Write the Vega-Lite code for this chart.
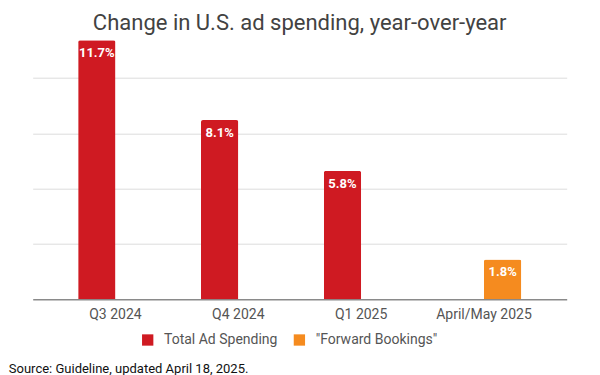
{
  "$schema": "https://vega.github.io/schema/vega-lite/v6.json",
  "autosize": {"type": "none"},
  "width": 534,
  "height": 265.6,
  "padding": {"left": 32.7, "top": 33.7, "right": 33.3, "bottom": 75.7},
  "background": "white",
  "config": {"view": {"stroke": null}},
  "title": {
    "text": "Change in U.S. ad spending, year-over-year",
    "font": "Roboto",
    "fontSize": 22,
    "fontWeight": "normal",
    "color": "#424242",
    "anchor": "middle",
    "baseline": "alphabetic",
    "offset": -18
  },
  "data": {
    "values": [
      {"period": "Q3 2024", "series": "Total Ad Spending", "value": 0.117},
      {"period": "Q4 2024", "series": "Total Ad Spending", "value": 0.081},
      {"period": "Q1 2025", "series": "Total Ad Spending", "value": 0.058},
      {"period": "April/May 2025", "series": "\"Forward Bookings\"", "value": 0.018}
    ]
  },
  "encoding": {
    "x": {
      "field": "period",
      "type": "nominal",
      "sort": ["Q3 2024", "Q4 2024", "Q1 2025", "April/May 2025"],
      "scale": {"paddingInner": 0.393, "paddingOuter": 0.37},
      "axis": {
        "title": "Source: Guideline, updated April 18, 2025.",
        "titleFont": "Roboto",
        "titleFontSize": 13,
        "titleFontWeight": "normal",
        "titleColor": "#111",
        "titleAlign": "left",
        "titleBaseline": "alphabetic",
        "titleX": -24.4,
        "titleY": 73,
        "labelAngle": 0,
        "labelFont": "Roboto",
        "labelFontSize": 14,
        "labelColor": "#555",
        "labelPadding": 8.5,
        "ticks": false,
        "domainColor": "#8a8a8a",
        "domainWidth": 1.5
      }
    },
    "xOffset": {
      "field": "series",
      "type": "nominal",
      "sort": ["Total Ad Spending", "\"Forward Bookings\""],
      "scale": {"domain": ["Total Ad Spending", "\"Forward Bookings\""], "paddingInner": 0, "paddingOuter": 0}
    },
    "y": {
      "field": "value",
      "type": "quantitative",
      "scale": {"domain": [0, 0.12], "nice": false},
      "axis": {
        "title": null,
        "labels": false,
        "ticks": false,
        "domain": false,
        "values": [0.025, 0.05, 0.075, 0.1],
        "gridColor": "#dcdcdc",
        "gridWidth": 1
      }
    }
  },
  "layer": [
    {
      "mark": {"type": "bar", "cornerRadiusTopLeft": 2, "cornerRadiusTopRight": 2},
      "encoding": {
        "color": {
          "field": "series",
          "type": "nominal",
          "sort": ["Total Ad Spending", "\"Forward Bookings\""],
          "scale": {"domain": ["Total Ad Spending", "\"Forward Bookings\""], "range": ["#cf1a22", "#f58b1f"]},
          "legend": {
            "title": null,
            "orient": "none",
            "direction": "horizontal",
            "legendX": 108,
            "legendY": 299.3,
            "symbolType": "square",
            "symbolSize": 128,
            "symbolStrokeWidth": 0,
            "labelFont": "Roboto",
            "labelFontSize": 14,
            "labelColor": "#555",
            "columnPadding": 14.7,
            "labelOffset": 9.3
          }
        }
      }
    },
    {
      "mark": {"type": "text", "baseline": "alphabetic", "dy": 17, "font": "Roboto", "fontSize": 13, "fontWeight": "bold", "color": "white"},
      "encoding": {
        "text": {"field": "value", "type": "quantitative", "format": ".1%"}
      }
    }
  ]
}
